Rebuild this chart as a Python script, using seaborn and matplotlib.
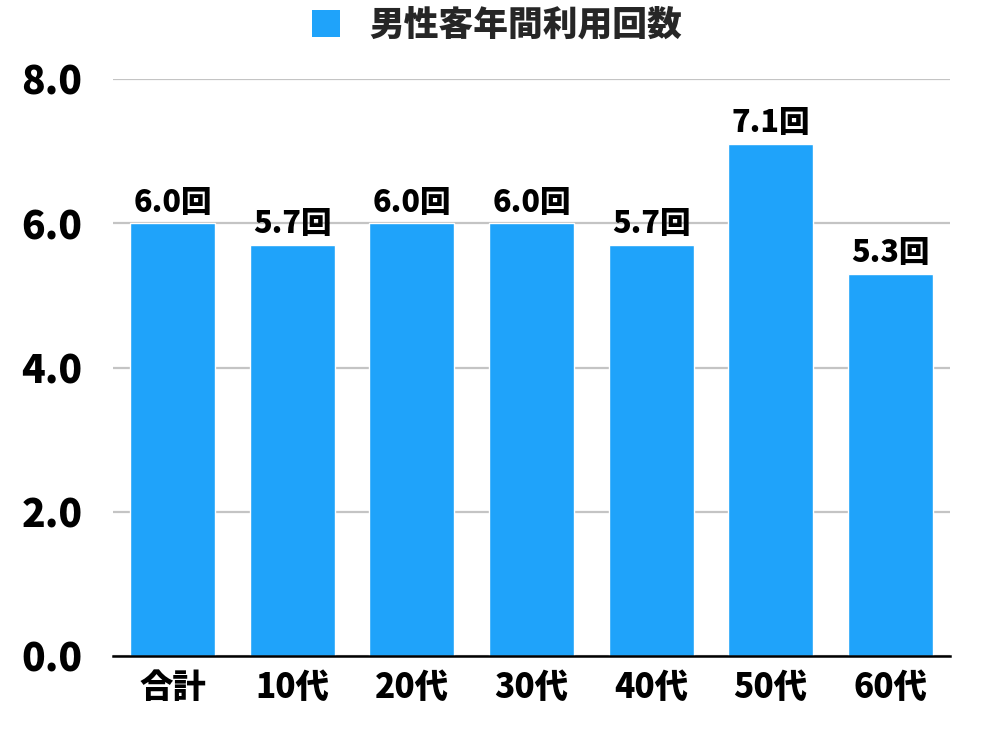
import matplotlib
matplotlib.use("Agg")
import matplotlib.pyplot as plt
import seaborn as sns
import pandas as pd
from matplotlib.patches import Patch

categories = ["合計", "10代", "20代", "30代", "40代", "50代", "60代"]
values = [6.0, 5.7, 6.0, 6.0, 5.7, 7.1, 5.3]
series_name = "男性客年間利用回数"
yticks = [0.0, 2.0, 4.0, 6.0, 8.0]

sns.set_theme(style="white")
plt.rcParams['font.family'] = ['Noto Sans CJK JP', 'DejaVu Sans']
plt.rcParams['font.weight'] = 'black'

color = "#1FA3FA"
df = pd.DataFrame({"cat": categories, "val": values})

fig = plt.figure(figsize=(10, 7.42), dpi=100)
ax = fig.add_axes([0.113, 0.1159, 0.837, 0.7776])
sns.barplot(data=df, x="cat", y="val", color=color, width=0.71, saturation=1, ax=ax, zorder=3)

ax.set_ylim(0, 8)
ax.set_xlim(-0.5, len(categories) - 0.5)
ax.set_yticks(yticks)
ax.set_yticklabels([f"{t:.1f}" for t in yticks], fontsize=28, fontweight='black', color='black')
ax.tick_params(axis='y', length=0, pad=22)
ax.tick_params(axis='x', length=0, pad=10, labelsize=24)
for lbl in ax.get_xticklabels():
    lbl.set_fontweight('black')
    lbl.set_color('black')
ax.set_xlabel("")
ax.set_ylabel("")
ax.yaxis.grid(True, color="#C4C4C4", linewidth=1.6, zorder=0)
ax.set_axisbelow(True)
for s in ["left", "right", "top"]:
    ax.spines[s].set_visible(False)
ax.spines["bottom"].set_color("black")
ax.spines["bottom"].set_linewidth(1.8)
ax.spines["bottom"].set_zorder(5)

ax.bar_label(ax.containers[0], labels=[f"{v:.1f}回" for v in values],
             padding=4, fontsize=22, fontweight='black', color='black')

handle = Patch(facecolor=color, edgecolor='none')
fig.legend([handle], [series_name], loc='center', bbox_to_anchor=(0.497, 0.966),
           frameon=False, handlelength=0.8, handleheight=0.8,
           handletextpad=0.85, prop={'weight': 'black', 'size': 25})

fig.savefig("out.png", dpi=100, facecolor="white")
